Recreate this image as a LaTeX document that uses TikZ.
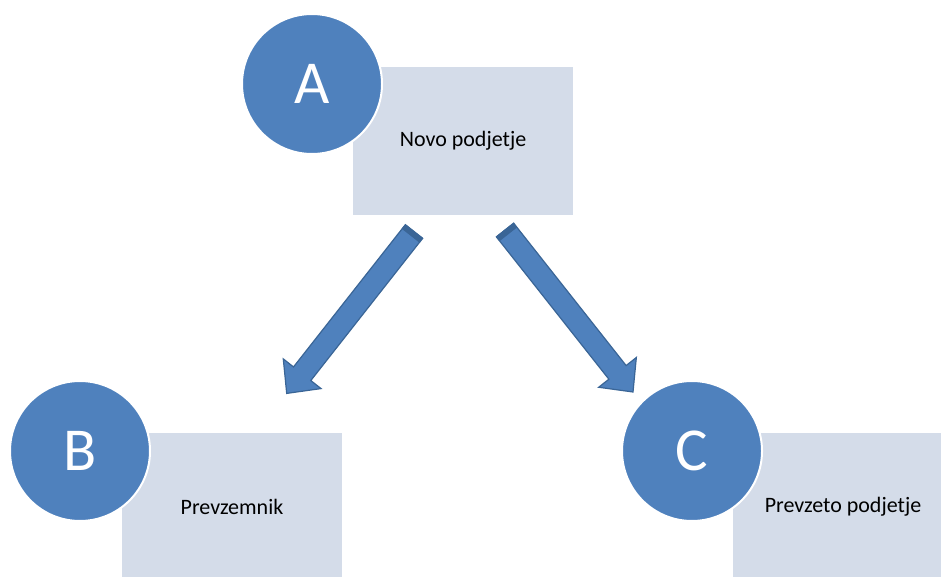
\documentclass[tikz,border=0pt]{standalone}
\usepackage{fontspec}
\setmainfont{Carlito}
\usetikzlibrary{calc}
\definecolor{cblue}{HTML}{4F81BD}
\definecolor{cdark}{HTML}{3A6596}
\definecolor{cbox}{HTML}{D4DCE9}
\tikzset{
  circ/.style={circle, fill=cblue, draw=white, line width=2pt, minimum size=140pt, inner sep=0pt,
    text=white, font=\fontsize{61}{61}\selectfont},
  boxx/.style={rectangle, fill=cbox, minimum width=220pt, minimum height=148pt, inner sep=0pt,
    font=\fontsize{22}{24}\selectfont, text=black},
  arrowbody/.style={fill=cblue, draw=cdark, line width=1.2pt, line join=miter},
  arrowband/.style={fill=cdark, draw=cdark, line width=0.8pt}
}
\newcommand\drawblockarrow[2]{%
  \coordinate (#1b) at ($(#2)!25pt!(#1)$);
  \coordinate (#1m) at ($(#1)!5pt!(#2)$);
  \draw[arrowbody]
    ($(#1)!11pt!90:(#2)$) -- ($(#1b)!11pt!-90:(#1)$) -- ($(#1b)!24pt!-90:(#1)$) -- (#2)
    -- ($(#1b)!24pt!90:(#1)$) -- ($(#1b)!11pt!90:(#1)$) -- ($(#1)!11pt!-90:(#2)$) -- cycle;
  \fill[arrowband]
    ($(#1)!11pt!90:(#2)$) -- ($(#1)!11pt!-90:(#2)$) -- ($(#1m)!11pt!-90:(#2)$) -- ($(#1m)!11pt!90:(#2)$) -- cycle;
}
\begin{document}
\begin{tikzpicture}[x=1pt,y=-1pt]
\useasboundingbox (0,0) rectangle (941,577);
\clip (0,0) rectangle (941,577);
% boxes
\node[boxx] (ra) at (463,141) {Novo podjetje};
\node[boxx] (rb) at (232,507) {Prevzemnik};
\node[boxx] (rc) at (843,507) {Prevzeto podjetje};
% circles
\node[circ] (ca) at (312,84) {A};
\node[circ] (cb) at (80,451) {B};
\node[circ] (cc) at (692,451) {C};
% arrows
\coordinate (t1) at (414,231.5);
\coordinate (h1) at (286.7,393.4);
\coordinate (t2) at (505,230);
\coordinate (h2) at (633,392);
\drawblockarrow{t1}{h1}
\drawblockarrow{t2}{h2}
\end{tikzpicture}
\end{document}
